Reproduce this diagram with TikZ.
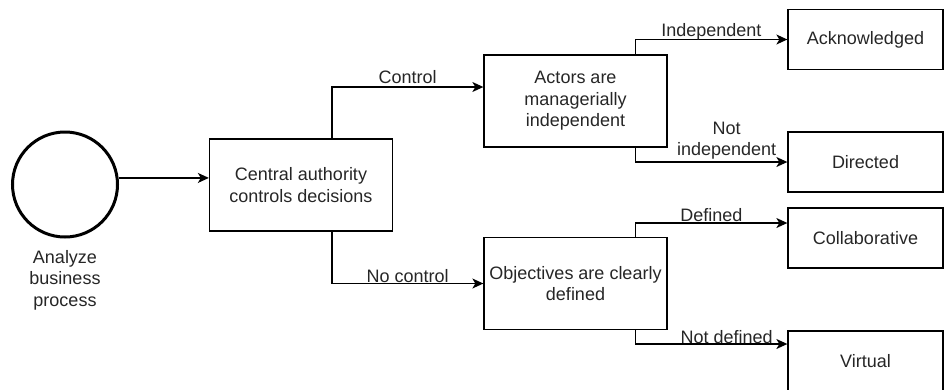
\documentclass[tikz,border=0pt]{standalone}
\usepackage{fontspec}
\setmainfont{Liberation Sans}
\usetikzlibrary{positioning}
\usetikzlibrary{arrows.meta}
\newcommand{\dfont}{\fontsize{18}{21.5}\selectfont}
\tikzset{ed/.style={inner sep=0pt,anchor=base,font=\dfont,text=black!85}}
\tikzset{>={Stealth[length=11pt,width=10pt,inset=3pt]}}
\tikzset{box/.style={draw,minimum width=183pt,minimum height=92pt,inner sep=2pt,align=center,font=\dfont,text=black!85}}
\tikzset{leaf/.style={box,minimum width=155pt,minimum height=60pt}}

\begin{document}
\begin{tikzpicture}[x=1pt,y=-1pt,line width=1.3pt]
\useasboundingbox (0,0) rectangle (944,389);

\node[draw,circle,line width=3pt,minimum size=105pt] (start) at (65,184.5) {};
\node[ed,align=center] (startlbl) [below=11pt of start] {Analyze\\business\\process};

\node[box] (central) at (301,185) {Central authority\\controls decisions};
\node[box] (actors) at (575.5,101) {Actors are\\managerially\\independent};
\node[box] (objectives) at (575.5,283.5) {Objectives are clearly\\defined};

\node[leaf] (ack) at (865.5,39.5) {Acknowledged};
\node[leaf] (directed) at (865.5,162) {Directed};
\node[leaf] (collab) at (865.5,238) {Collaborative};
\node[leaf] (virtual) at (865.5,361) {Virtual};

\draw[->] (start.7) -- (start.7 -| central.west);
\draw[->] ([xshift=31pt]central.north) |- node[ed,pos=0.75,yshift=4pt] {Control} ([yshift=14pt]actors.west);
\draw[->] ([xshift=31pt]central.south) |- node[ed,pos=0.75,yshift=1pt] {No control} (objectives.west);

\draw[->] ([xshift=60pt]actors.north) |- node[ed,pos=0.75,yshift=3pt] {Independent} (ack.west);
\draw[->] ([xshift=60pt]actors.south) |- node[ed,pos=0.8,anchor=south,align=center,yshift=2pt] {Not\\independent} (directed.west);
\draw[->] ([xshift=60pt]objectives.north) |- node[ed,pos=0.75,yshift=2pt] {Defined} ([yshift=15pt]collab.west);
\draw[->] ([xshift=60pt]objectives.south) |- node[ed,pos=0.8,yshift=1pt] {Not defined} ([yshift=17pt]virtual.west);
\end{tikzpicture}
\end{document}
